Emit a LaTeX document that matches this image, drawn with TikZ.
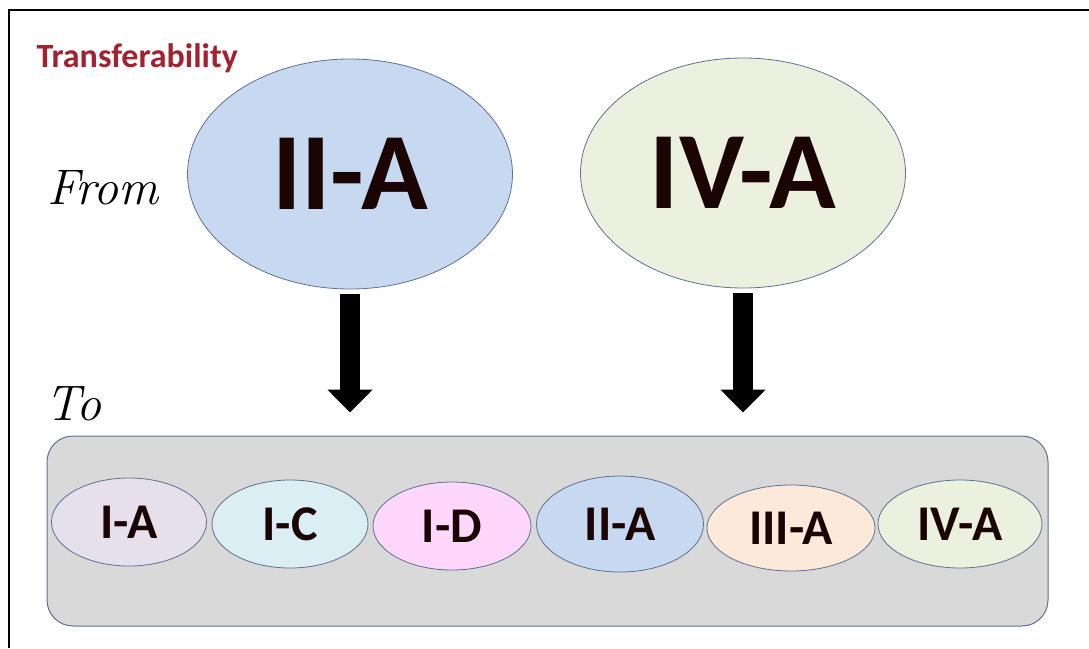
\documentclass[tikz,border=0pt]{standalone}
\usepackage{fontspec}
\setmainfont{Carlito}
\usetikzlibrary{arrows.meta, positioning, shapes.geometric}

\definecolor{titlered}{RGB}{163,33,48}
\definecolor{rimblue}{RGB}{96,112,146}
\definecolor{boxgray}{RGB}{217,217,217}
\definecolor{fillIA}{RGB}{230,224,236}
\definecolor{fillIC}{RGB}{219,238,244}
\definecolor{fillID}{RGB}{255,214,252}
\definecolor{fillIIA}{RGB}{198,217,241}
\definecolor{fillIIIA}{RGB}{253,233,217}
\definecolor{fillIVA}{RGB}{235,241,222}
\definecolor{inkdark}{RGB}{26,4,4}

\tikzset{
  bigclass/.style={ellipse, draw=rimblue, line width=0.8pt, inner sep=0pt,
    minimum width=325pt, minimum height=230pt, text=inkdark,
    font=\bfseries\fontsize{110}{110}\selectfont},
  smallclass/.style={ellipse, draw=rimblue, line width=0.8pt, inner sep=0pt,
    minimum height=88pt, text=inkdark,
    font=\bfseries\fontsize{50}{50}\selectfont},
  hand/.style={font=\fontfamily{lmr}\itshape\fontsize{50}{50}\selectfont, anchor=base west},
  fatarrow/.style={line width=20pt, -{Triangle[width=44pt, length=23pt]},
    shorten <=5pt, shorten >=23pt}
}

\begin{document}
\begin{tikzpicture}[x=1pt, y=-1pt]
\useasboundingbox (0,0) rectangle (1089,648);

% frame
\draw[line width=2pt] (9,648) -- (9,10) -- (1089,10);

\node[anchor=base west, text=titlered, font=\bfseries\fontsize{34}{34}\selectfont]
  (title) at (33,67) {Transferability};

\node[hand] (from) at (44,204) {From};
\node[hand] (to) at (42,420) {To};

% source classes
\node[bigclass, fill=fillIIA] (fromIIA) at (350,174) {II-A};
\node[bigclass, fill=fillIVA] (fromIVA) at (743,173) {IV-A};

% target box
\node[draw=rimblue, line width=1pt, fill=boxgray, rounded corners=26pt,
  minimum width=1001pt, minimum height=190pt, inner sep=0pt] (toBox) at (547.5,531) {};

\node[smallclass, fill=fillIA,   minimum width=155pt] (toIA)   at (129,522) {I-A};
\node[smallclass, fill=fillIC,   minimum width=156pt] (toIC)   at (290,524) {I-C};
\node[smallclass, fill=fillID,   minimum width=158pt] (toID)   at (452,526) {I-D};
\node[smallclass, fill=fillIIA,  minimum width=167pt, minimum height=96pt] (toIIA) at (620,524) {II-A};
\node[smallclass, fill=fillIIIA, minimum width=168pt, minimum height=86pt] (toIIIA) at (791,528) {III-A};
\node[smallclass, fill=fillIVA,  minimum width=164pt] (toIVA)  at (960,524) {IV-A};

% arrows
\draw[fatarrow] (fromIIA.south) -- (fromIIA.south |- toBox.north);
\draw[fatarrow] (fromIVA.south) -- (fromIVA.south |- toBox.north);

\end{tikzpicture}
\end{document}
